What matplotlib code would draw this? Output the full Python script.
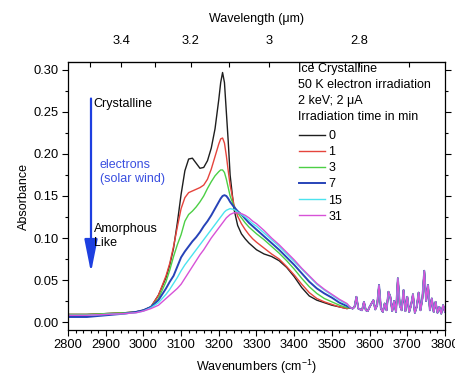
import numpy as np
import matplotlib
matplotlib.use("Agg")
import matplotlib.pyplot as plt
from matplotlib.ticker import MultipleLocator, FixedLocator, FixedFormatter

plt.rcParams['font.family'] = ['Liberation Sans', 'DejaVu Sans']
plt.rcParams['mathtext.default'] = 'regular'

# ---------------- data ----------------
wn_main = [2800, 2850, 2900, 2950, 2980, 3000, 3020, 3040, 3060, 3070, 3080, 3090, 3100,
           3110, 3120, 3130, 3140, 3150, 3160, 3170, 3180, 3190, 3200, 3205, 3210, 3215,
           3220, 3225, 3230, 3240, 3250, 3260, 3270, 3280, 3290, 3300, 3320, 3340, 3360,
           3380, 3400, 3420, 3440, 3460, 3480, 3500, 3520, 3540]

abs_0min = [0.009, 0.009, 0.010, 0.011, 0.012, 0.014, 0.018, 0.032, 0.053, 0.068, 0.088, 0.118, 0.152,
            0.180, 0.194, 0.195, 0.189, 0.183, 0.184, 0.192, 0.207, 0.230, 0.265, 0.285, 0.297, 0.285,
            0.250, 0.215, 0.175, 0.135, 0.115, 0.105, 0.099, 0.094, 0.090, 0.086, 0.081, 0.078, 0.073,
            0.065, 0.054, 0.041, 0.031, 0.026, 0.023, 0.020, 0.018, 0.016]
abs_1min = [0.009, 0.009, 0.010, 0.011, 0.012, 0.014, 0.018, 0.032, 0.055, 0.070, 0.090, 0.113, 0.135,
            0.148, 0.154, 0.156, 0.158, 0.160, 0.163, 0.170, 0.182, 0.197, 0.212, 0.218, 0.219, 0.213,
            0.198, 0.180, 0.163, 0.140, 0.126, 0.117, 0.110, 0.104, 0.099, 0.095, 0.088, 0.081, 0.075,
            0.066, 0.056, 0.045, 0.035, 0.028, 0.024, 0.021, 0.018, 0.016]
abs_3min = [0.009, 0.009, 0.010, 0.011, 0.012, 0.014, 0.018, 0.028, 0.048, 0.062, 0.078, 0.092, 0.104,
            0.120, 0.128, 0.132, 0.137, 0.143, 0.150, 0.159, 0.167, 0.174, 0.179, 0.181, 0.181, 0.178,
            0.170, 0.160, 0.150, 0.138, 0.130, 0.124, 0.118, 0.113, 0.109, 0.105, 0.098, 0.090, 0.082,
            0.073, 0.063, 0.052, 0.042, 0.034, 0.028, 0.024, 0.020, 0.017]
abs_7min = [0.006, 0.006, 0.008, 0.010, 0.012, 0.014, 0.018, 0.026, 0.040, 0.048, 0.055, 0.066, 0.077,
            0.084, 0.090, 0.096, 0.101, 0.107, 0.114, 0.120, 0.127, 0.135, 0.143, 0.147, 0.150, 0.151,
            0.150, 0.147, 0.143, 0.137, 0.132, 0.128, 0.123, 0.118, 0.114, 0.110, 0.102, 0.094, 0.086,
            0.077, 0.068, 0.058, 0.048, 0.040, 0.034, 0.029, 0.023, 0.019]
abs_15min = [0.008, 0.008, 0.009, 0.010, 0.011, 0.013, 0.017, 0.023, 0.033, 0.039, 0.046, 0.053, 0.061,
             0.068, 0.074, 0.080, 0.086, 0.092, 0.098, 0.104, 0.110, 0.116, 0.122, 0.125, 0.128, 0.131,
             0.133, 0.134, 0.135, 0.134, 0.131, 0.128, 0.125, 0.121, 0.117, 0.114, 0.106, 0.098, 0.090,
             0.081, 0.072, 0.063, 0.054, 0.045, 0.038, 0.032, 0.026, 0.021]
abs_31min = [0.008, 0.008, 0.009, 0.010, 0.011, 0.013, 0.016, 0.020, 0.028, 0.032, 0.036, 0.040, 0.045,
             0.052, 0.059, 0.066, 0.073, 0.080, 0.086, 0.093, 0.100, 0.106, 0.112, 0.115, 0.118, 0.121,
             0.124, 0.126, 0.128, 0.130, 0.130, 0.129, 0.127, 0.124, 0.120, 0.117, 0.109, 0.100, 0.092,
             0.083, 0.074, 0.064, 0.055, 0.046, 0.039, 0.033, 0.027, 0.022]

# noisy high-wavenumber tail (shared by all spectra)
wn_tail = [3550, 3555, 3560, 3565, 3570, 3575, 3580, 3585, 3590, 3595, 3600, 3605, 3610, 3615,
           3620, 3625, 3630, 3635, 3640, 3645, 3650, 3655, 3660, 3665, 3670, 3675, 3680, 3685,
           3690, 3695, 3700, 3705, 3710, 3715, 3720, 3725, 3730, 3735, 3740, 3745, 3750, 3755,
           3760, 3765, 3770, 3775, 3780, 3785, 3790, 3795, 3800]
abs_tail = [0.017, 0.016, 0.018, 0.030, 0.016, 0.015, 0.014, 0.024, 0.014, 0.013, 0.018, 0.022,
            0.026, 0.015, 0.020, 0.044, 0.016, 0.012, 0.022, 0.014, 0.036, 0.030, 0.013, 0.025,
            0.012, 0.052, 0.020, 0.014, 0.038, 0.013, 0.030, 0.012, 0.020, 0.033, 0.011, 0.018,
            0.035, 0.014, 0.028, 0.061, 0.025, 0.044, 0.014, 0.028, 0.012, 0.024, 0.011, 0.018,
            0.010, 0.020, 0.012]

times = ['0', '1', '3', '7', '15', '31']
series = [abs_0min, abs_1min, abs_3min, abs_7min, abs_15min, abs_31min]
colors = ['#1e1e1e', '#e5443c', '#4ccf45', '#2743b8', '#4be3ef', '#d752d7']
widths = [1.0, 1.0, 1.0, 1.4, 1.0, 1.0]

wl_major = [3.4, 3.2, 3.0, 2.8]
wl_major_labels = ['3.4', '3.2', '3', '2.8']
wl_minor = [3.5, 3.3, 3.1, 2.9, 2.7]

# ---------------- figure ----------------
W, H = 455, 377
fig = plt.figure(figsize=(W / 100, H / 100), dpi=100)
ax = fig.add_axes([68 / W, 1 - 330 / H, (445 - 68) / W, (330 - 62) / H])

lines = []
for t, ys, c, lw in zip(times, series, colors, widths):
    x = np.concatenate([wn_main, wn_tail])
    y = np.concatenate([ys, abs_tail])
    ln, = ax.plot(x, y, color=c, lw=lw, label=t)
    lines.append(ln)

FS_TICK = 9.3
FS_LAB = 9.0
FS_TXT = 9.0

ax.set_xlim(2800, 3800)
ax.set_ylim(-0.0095, 0.3095)
ax.xaxis.set_major_locator(MultipleLocator(100))
ax.xaxis.set_minor_locator(MultipleLocator(20))
ax.yaxis.set_major_locator(MultipleLocator(0.05))
ax.yaxis.set_minor_locator(MultipleLocator(0.025))
ax.yaxis.set_major_formatter(matplotlib.ticker.FormatStrFormatter('%.2f'))
ax.tick_params(axis='both', which='major', direction='out', length=4, width=0.8,
               labelsize=FS_TICK, pad=2.5)
ax.tick_params(axis='both', which='minor', direction='out', length=2.2, width=0.8)
ax.tick_params(axis='y', right=True, which='both')
ax.tick_params(axis='x', top=False, which='both')
for s in ax.spines.values():
    s.set_linewidth(0.9)

ax.set_xlabel('Wavenumbers (cm$^{-1}$)', fontsize=FS_LAB, labelpad=5)
ax.set_ylabel('Absorbance', fontsize=FS_LAB, labelpad=2.5)

sec = ax.secondary_xaxis('top', functions=(lambda v: 10000.0 / v, lambda v: 10000.0 / v))
sec.xaxis.set_major_locator(FixedLocator(wl_major))
sec.xaxis.set_major_formatter(FixedFormatter(wl_major_labels))
sec.xaxis.set_minor_locator(FixedLocator(wl_minor))
sec.tick_params(axis='x', which='both', direction='in', length=3.5, width=0.8,
                labelsize=FS_TICK, pad=10.5)
sec.set_xlabel('Wavelength (\u03bcm)', fontsize=FS_LAB, labelpad=10)

# arrow and annotations
blue = '#1d3fe0'
ax.annotate('', xy=(2861, 0.059), xytext=(2861, 0.266),
            arrowprops=dict(arrowstyle='-|>,head_length=2.0,head_width=0.4',
                            mutation_scale=10, color=blue, lw=1.6, shrinkA=0, shrinkB=0))
ax.text(2868, 0.259, 'Crystalline', fontsize=FS_TXT, va='center', ha='left')
ax.text(2884, 0.179, 'electrons\n(solar wind)', fontsize=FS_TXT, va='center', ha='left',
        color='#3a4fe0', linespacing=1.25)
ax.text(2868, 0.102, 'Amorphous\nLike', fontsize=FS_TXT, va='center', ha='left', linespacing=1.25)

fig.text(298 / W, 1 - 63 / H,
         'Ice Crystalline\n50 K electron irradiation\n2 keV; 2 \u03bcA\nIrradiation time in min',
         fontsize=FS_TXT, va='top', ha='left', linespacing=1.45)

leg = ax.legend(handles=lines, loc='upper left', bbox_to_anchor=(299 / W, 1 - 130 / H),
                bbox_transform=fig.transFigure, frameon=False, fontsize=FS_TXT,
                handlelength=2.1, handletextpad=0.25, labelspacing=0.33, borderpad=0,
                borderaxespad=0)

fig.savefig('out.png', dpi=100)
